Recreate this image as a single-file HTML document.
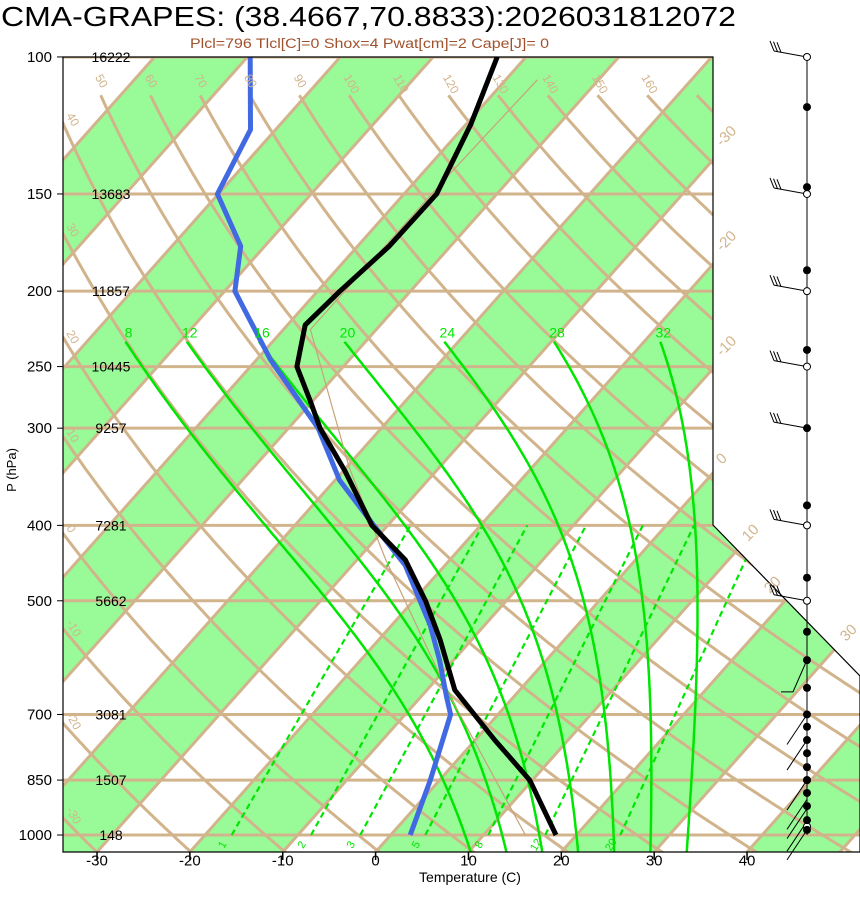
<!DOCTYPE html>
<html><head><meta charset="utf-8">
<style>
html,body{margin:0;padding:0;background:#fff;}
svg{display:block;font-family:"Liberation Sans",sans-serif;}
</style></head>
<body>
<svg id="chart" width="860" height="914" viewBox="0 0 860 914" xmlns="http://www.w3.org/2000/svg">
<defs><clipPath id="plotClip"><polygon points="63,57 713,57 713,525 860,676 860,852 63,852"/></clipPath></defs>
<text x="1" y="26" font-size="28" textLength="735" lengthAdjust="spacingAndGlyphs">CMA-GRAPES: (38.4667,70.8833):2026031812072</text>
<text x="190" y="48" font-size="13.5" fill="#a0522d" textLength="359" lengthAdjust="spacingAndGlyphs">Plcl=796 Tlcl[C]=0 Shox=4 Pwat[cm]=2 Cape[J]= 0</text>
<g id="plot" clip-path="url(#plotClip)"></g>
<g id="over"></g>
<polygon points="63,57 713,57 713,525 860,676 860,852 63,852" fill="none" stroke="#000" stroke-width="1.2"/>
<text transform="translate(16,470) rotate(-90)" font-size="13" text-anchor="middle">P (hPa)</text>
<text x="470" y="882" font-size="14" text-anchor="middle">Temperature (C)</text>
</svg>
<script>
// ---- data ----
const isobars = [100,150,200,250,300,400,500,700,850,1000];
const heights = ["16222","13683","11857","10445","9257","7281","5662","3081","1507","148"];
const tempP = [100,122,150,175,200,221,250,276,300,340,400,443,500,561,651,755,850,1000];
const tempC = [-63.1,-59.5,-56.5,-56.6,-57.6,-58.1,-55.0,-50.4,-46.6,-39.9,-31.7,-24.8,-18.7,-13.4,-7.0,2.1,9.7,17.8];
const dewP = [100,124,150,175,200,245,300,350,400,450,537,596,665,700,850,1000];
const dewC = [-89.7,-82.7,-80.1,-72.6,-68.9,-58.5,-46.8,-39.5,-31.5,-24.3,-15.9,-11.5,-7.2,-5.1,-1.0,2.1];
const parcelP = [1000,657,443,337,224,140,107];
const parcelC = [14.5,-7.4,-26.9,-39.7,-57.1,-57.0,-56.6];
const xTicks = [-30,-20,-10,0,10,20,30,40];
const moistLabels = [8,12,16,20,24,28,32];
const mixRatios = [1,2,3,5,8,12,20];
const windDotP = [116,147,188,238,300,377,467,548,596,647,700,726,755,785,818,850,883,918,957,985];
const windOpenP = [100,150,200,250,400,500,850,975];
const barbUpperP = [100,150,200,250,300,400,500];
const barbLowerP = [700,755,850,900,925,960,985];

// ---- axes ----
const NS='http://www.w3.org/2000/svg';
const YB=852, X0=375.6, KX=9.286, SK=0.89, TH_OFF=-3.5;
function yP(p){return 835-337.9*Math.log(1000/p);}
function xT(t,y){return X0+KX*t+SK*(YB-y);}
function mk(tag,attrs,parent){const e=document.createElementNS(NS,tag);for(const k in attrs)e.setAttribute(k,attrs[k]);parent.appendChild(e);return e;}
const plot=document.getElementById('plot'), over=document.getElementById('over'), svg=document.getElementById('chart');
const TAN='#d2b48c', GRN='#98fb98', LIME='#00e600';

for(let t=-160;t<=60;t+=20){
  const yt=57,yb=860;
  const pts=[[xT(t,yb),yb],[xT(t+10,yb),yb],[xT(t+10,yt),yt],[xT(t,yt),yt]].map(a=>a.join(',')).join(' ');
  const b=mk('polygon',{points:pts,fill:GRN},plot);
  
  
}
for(let t=-160;t<=60;t+=10){
  const l=mk('line',{x1:xT(t,860),y1:860,x2:xT(t,57),y2:57,stroke:TAN,'stroke-width':3},plot);
  
  
}
function dryPts(th){const a=[];for(let p=1060;p>=110;p-=4){const T=(th+TH_OFF+273.15)*Math.pow(p/1000,0.2857)-273.15;const y=yP(p);a.push([xT(T,y),y]);}return a;}
for(let th=-40;th<=170;th+=10){
  const pts=dryPts(th);
  const d=pts.map((q,i)=>(i?'L':'M')+q[0].toFixed(1)+','+q[1].toFixed(1)).join('');
  const pa=mk('path',{d:d,fill:'none',stroke:TAN,'stroke-width':3},plot);
  
  
  if(th>=-30&&th<=160){
    let x,y;
    const top=pts[pts.length-1];
    if(top[0]>=85){x=top[0]-6;y=top[1]-18;}
    else{let q=pts.find(q=>q[0]<=70);if(!q)continue;x=66;y=q[1]-14;}
    if(x>705)continue;
    const lb=mk('text',{x:x,y:y,'font-size':12,fill:TAN,transform:`rotate(60 ${x} ${y})`},svg);lb.textContent=th;
    
    
  }
}
isobars.forEach((p,i)=>{
  const y=yP(p);
  const l=mk('line',{x1:63,y1:y,x2:860,y2:y,stroke:TAN,'stroke-width':3},plot);
  
  
  const tk=mk('line',{x1:57,y1:y,x2:63,y2:y,stroke:'#000','stroke-width':1},svg);
  
  
  const lb=mk('text',{x:52,y:y+5,'font-size':15,'text-anchor':'end'},svg);lb.textContent=p;
  
  
  const hl=mk('text',{x:111,y:y+5,'font-size':14,'text-anchor':'middle'},over);hl.textContent=heights[i];
  
  
});
function es(tc){return 6.112*Math.exp(17.67*tc/(tc+243.5));}
function dTdlnp(T,p){const tc=T-273.15;const e=es(tc);const rs=0.622*e/(p-e);return (287*T+2.5e6*rs)/(1005+2.5e6*2.5e6*rs*0.622/(287*T*T));}
function moistPts(tw){const up=[],dn=[];let T=tw+273.15,lp=Math.log(1000);const h=0.005;
  while(Math.exp(lp)>232){up.push([Math.exp(lp),T]);T-=dTdlnp(T,Math.exp(lp))*h;lp-=h;}
  T=tw+273.15;lp=Math.log(1000);while(Math.exp(lp)<1060){T+=dTdlnp(T,Math.exp(lp))*h;lp+=h;dn.push([Math.exp(lp),T]);}
  return dn.reverse().concat(up);}
moistLabels.forEach(tw=>{
  const pts=moistPts(tw);let d='';pts.forEach(([p,T])=>{const y=yP(p);d+=(d?'L':'M')+xT(T-273.15,y).toFixed(1)+','+y.toFixed(1);});
  const pa=mk('path',{d:d,fill:'none',stroke:LIME,'stroke-width':2.5},plot);
  
  
  const last=pts[pts.length-1];const y=yP(last[0]);
  const lb=mk('text',{x:xT(last[1]-273.15,y)+3,y:y-4,'font-size':14,fill:LIME,'text-anchor':'middle'},over);lb.textContent=tw;
  
  
});
function tdOf(w,p){const e=w*p/(622+w);const l=Math.log(e/6.112);return 243.5*l/(17.67-l);}
mixRatios.forEach(w=>{
  const p1=1000,p2=400;
  const l=mk('line',{x1:xT(tdOf(w,p1),yP(p1)),y1:yP(p1),x2:xT(tdOf(w,p2),yP(p2)),y2:yP(p2),stroke:LIME,'stroke-width':2.2,'stroke-dasharray':'6,4'},plot);
  
  
  const x=xT(tdOf(w,1000),845);
  const lb=mk('text',{x:x,y:848,'font-size':11,fill:LIME,'text-anchor':'middle',transform:`rotate(-60 ${x} 845)`},over);lb.textContent=w;
  
  
});
function prof(P,T,color,w,name){let d='';P.forEach((p,i)=>{const y=yP(p);d+=(i?'L':'M')+xT(T[i],y).toFixed(1)+','+y.toFixed(1);});
  const pa=mk('path',{d:d,fill:'none',stroke:color,'stroke-width':w,'stroke-linejoin':'round'},plot);
  
  }
prof(parcelP,parcelC,'#c8a27a',1.2,'parcel-path');
prof(dewP,dewC,'#4169e1',5,'dewpoint-line');
prof(tempP,tempC,'#000',5,'temperature-line');
[[-30,722,147],[-20,722,252],[-10,722,357],[0,722,465],[10,748,542],[20,770,594],[30,846,642]].forEach(([t,x,y])=>{
  const lb=mk('text',{x:x,y:y,'font-size':15,fill:TAN,transform:`rotate(-45 ${x} ${y})`},svg);lb.textContent=t;
  
  
});
xTicks.forEach(t=>{const x=xT(t,YB);
  const tk=mk('line',{x1:x,y1:852,x2:x,y2:860,stroke:'#000','stroke-width':1.5},svg);
  
  
  const lb=mk('text',{x:x,y:861,'font-size':15,'text-anchor':'middle',dy:'0.3em'},svg);lb.textContent=t;
  
  });
const WX=807;
const ax=mk('line',{x1:WX,y1:57,x2:WX,y2:835,stroke:'#000','stroke-width':1},svg);


barbUpperP.forEach(p=>{const y=yP(p);
  const g=mk('g',{},svg);
  
  
  mk('line',{x1:WX,y1:y,x2:WX-33,y2:y-6,stroke:'#000','stroke-width':1},g);
  for(let k=0;k<3;k++){const bx=WX-33+k*3.5,by=y-6+k*0.7;mk('line',{x1:bx,y1:by,x2:bx-4,y2:by-10,stroke:'#000','stroke-width':1},g);}
});
barbLowerP.forEach(p=>{const y=yP(p);
  const l=mk('line',{x1:WX,y1:y,x2:WX-20,y2:y+30,stroke:'#000','stroke-width':1},svg);
  
  });
(function(){const y=yP(647);const g=mk('g',{},svg);
  
  
  mk('polyline',{points:`${WX},${y-28} ${WX-14},${y+4} ${WX-26},${y+4}`,fill:'none',stroke:'#000','stroke-width':1},g);})();
windOpenP.forEach(p=>{const c=mk('circle',{cx:WX,cy:yP(p),r:3.5,fill:'#fff',stroke:'#000','stroke-width':1},svg);
  
  });
windDotP.forEach(p=>{const c=mk('circle',{cx:WX,cy:yP(p),r:4,fill:'#000'},svg);
  
  });
</script>
</body></html>
